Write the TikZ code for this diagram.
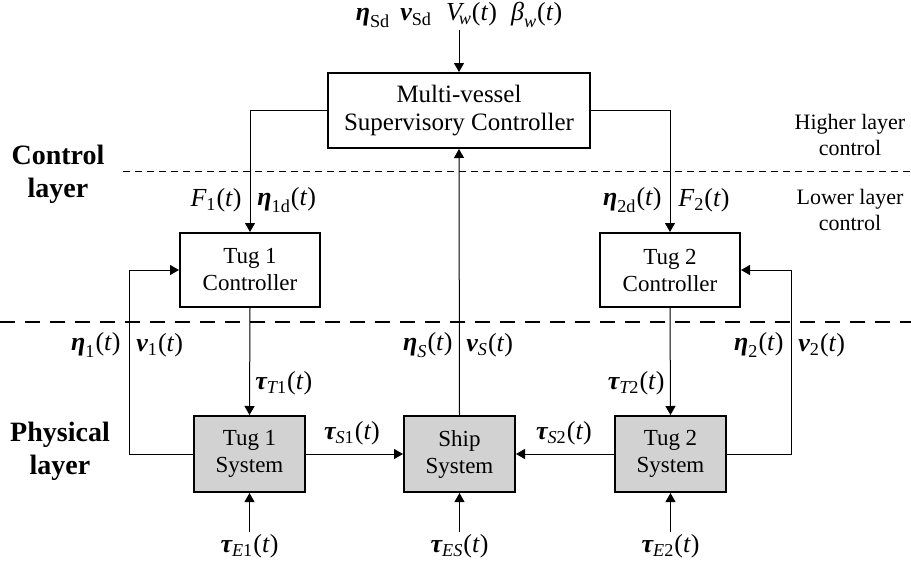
\documentclass[tikz,border=0pt]{standalone}
\usepackage{amsmath}
\usepackage{fontspec}
\setmainfont{Liberation Serif}
\usetikzlibrary{arrows.meta,positioning}
\newcommand{\ivar}[1]{\text{\itshape #1}}
\newcommand{\bvar}[1]{\text{\bfseries\itshape #1}}
\newcommand{\oft}{\text{(\itshape t\/\upshape)}}

\begin{document}
\begin{tikzpicture}[x=0.5pt, y=-0.5pt,
  ctrlbox/.style={draw, line width=1pt, fill=white, minimum width=70pt, minimum height=37pt, align=center, font=\fontsize{11.5}{13.5}\selectfont},
  sysbox/.style={draw, line width=1pt, fill=gray!35, minimum width=55.5pt, minimum height=38pt, align=center, font=\fontsize{11.5}{13.5}\selectfont},
  supbox/.style={draw, line width=1pt, fill=white, minimum width=131pt, minimum height=37.5pt, align=center, font=\fontsize{12.5}{14}\selectfont},
  sig/.style={inner sep=1pt, font=\fontsize{13}{15}\selectfont},
  layertxt/.style={align=center, font=\fontsize{14}{16.5}\selectfont\bfseries},
  notetxt/.style={align=center, font=\fontsize{11}{13}\selectfont},
  arr/.style={-{Triangle[length=4.5pt,width=5pt]}, line width=0.5pt}
]
\useasboundingbox (0,0) rectangle (911,568);

% blocks
\node[supbox] (sup) at (459,110.5) {Multi-vessel\\Supervisory Controller};
\node[ctrlbox] (tc1) at (250,270) {Tug 1\\Controller};
\node[ctrlbox] (tc2) at (670,270) {Tug 2\\Controller};
\node[sysbox] (ts1) at (249.5,454) {Tug 1\\System};
\node[sysbox] (ship) at (459.5,454) {Ship\\System};
\node[sysbox] (ts2) at (670.5,454) {Tug 2\\System};

% layer separators
\draw[line width=0.5pt, dash pattern=on 3.5pt off 2.5pt] (123,171) -- (911,171);
\draw[line width=1.3pt, dash pattern=on 7.5pt off 5pt] (0,322) -- (911,322);

% layer names
\node[layertxt] (ctrllayer) at (58,174) {Control\\layer};
\node[layertxt] (phylayer) at (60,451) {Physical\\layer};
\node[notetxt] (higher) at (850,135) {Higher layer\\control};
\node[notetxt] (lower) at (850,210) {Lower layer\\control};

% inputs from above
\node[sig, anchor=south] (ref) at (459,30) {$\bvar{η}_{\text{Sd}}\hspace{5pt}\bvar{ν}_{\text{Sd}}\hspace{7pt}\ivar{V}_{\!\ivar{w}}\oft\hspace{7pt}\ivar{β}_{\ivar{w}}\oft$};
\draw[arr] (ref.south) -- (sup.north);

% supervisory outputs
\draw[arr] (sup.west) -| (tc1.north);
\draw[arr] (sup.east) -| (tc2.north);
\node[sig, anchor=east] (f1) at (244,200) {$\ivar{F}_{\text{1}}\oft$};
\node[sig, anchor=west] (eta1d) at (255,200) {$\bvar{η}_{\text{1d}}\oft$};
\node[sig, anchor=east] (eta2d) at (664,200) {$\bvar{η}_{\text{2d}}\oft$};
\node[sig, anchor=west] (f2) at (676,200) {$\ivar{F}_{\text{2}}\oft$};

% control forces
\draw[arr] (tc1.south) -- (ts1.north);
\draw[arr] (tc2.south) -- (ts2.north);
\node[sig, anchor=west] (tauT1) at (253,383) {$\bvar{τ}_{\ivar{T}\text{1}}\oft$};
\node[sig, anchor=east] (tauT2) at (667,383) {$\bvar{τ}_{\ivar{T}\text{2}}\oft$};

% feedback loops
\coordinate (fb1) at (129,454);
\coordinate (fb2) at (791,454);
\draw[arr] (ts1.west) -- (fb1) |- (tc1.west);
\draw[arr] (ts2.east) -- (fb2) |- (tc2.east);
\draw[arr] (ship.north) -- (sup.south);
\node[sig, anchor=east] (eta1) at (123,345) {$\bvar{η}_{\text{1}}\oft$};
\node[sig, anchor=west] (nu1) at (134,345) {$\bvar{ν}_{\text{1}}\oft$};
\node[sig, anchor=east] (etaS) at (455,345) {$\bvar{η}_{\ivar{S}}\oft$};
\node[sig, anchor=west] (nuS) at (464,345) {$\bvar{ν}_{\ivar{S}}\oft$};
\node[sig, anchor=east] (eta2) at (786,345) {$\bvar{η}_{\text{2}}\oft$};
\node[sig, anchor=west] (nu2) at (796,345) {$\bvar{ν}_{\text{2}}\oft$};

% tug forces on ship
\draw[arr] (ts1.east) -- (ship.west);
\draw[arr] (ts2.west) -- (ship.east);
\node[sig] (tauS1) at (352,433) {$\bvar{τ}_{\ivar{S}\text{1}}\oft$};
\node[sig] (tauS2) at (564,433) {$\bvar{τ}_{\ivar{S}\text{2}}\oft$};

% environmental disturbances
\node[sig, anchor=north] (e1) at (249.5,532) {$\bvar{τ}_{\ivar{E}\text{1}}\oft$};
\node[sig, anchor=north] (es) at (459.5,532) {$\bvar{τ}_{\ivar{ES}}\oft$};
\node[sig, anchor=north] (e2) at (670.5,532) {$\bvar{τ}_{\ivar{E}\text{2}}\oft$};
\draw[arr] (e1.north) -- (ts1.south);
\draw[arr] (es.north) -- (ship.south);
\draw[arr] (e2.north) -- (ts2.south);
\end{tikzpicture}
\end{document}
